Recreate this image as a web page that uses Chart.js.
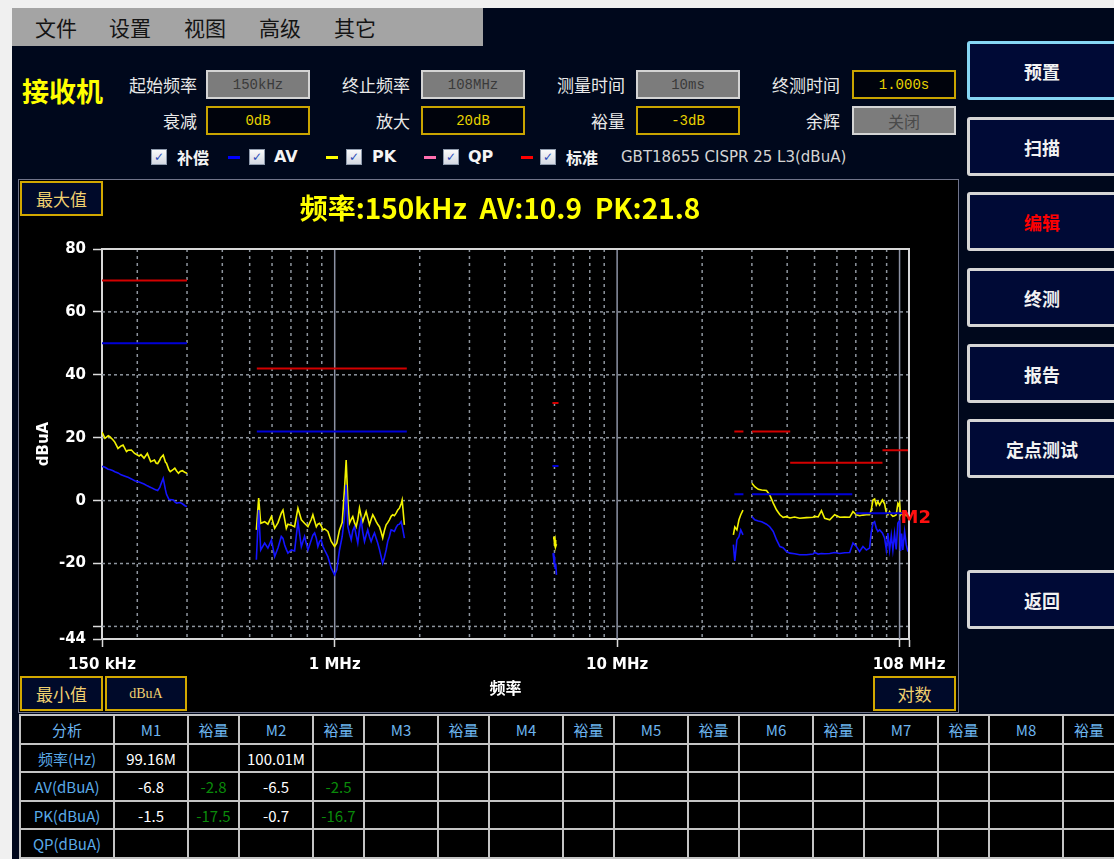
<!DOCTYPE html>
<html lang="zh-CN">
<head>
<meta charset="utf-8">
<title>接收机</title>
<script src="https://cdn.jsdelivr.net/npm/chart.js@4/dist/chart.umd.min.js"></script>
<style>
html,body{margin:0;padding:0;width:1114px;height:859px;overflow:hidden;background:#f0f0f0;}
body{position:relative;font-family:"Noto Sans CJK SC","Noto Sans",sans-serif;}
.a{position:absolute;white-space:nowrap;}
#app{left:12px;top:8px;width:1102px;height:851px;background:#00081c;}
#menu{left:12px;top:8px;width:471px;height:38px;background:#a4a4a4;}
.mi{top:8px;height:38px;line-height:38px;font-size:21px;color:#141414;}
#rx{left:22px;top:74px;height:34px;line-height:34px;font-size:27px;font-weight:bold;color:#ffff00;}
.lbl{height:29px;line-height:29px;font-size:17px;color:#e8e8e8;text-align:right;width:120px;}
.box{width:104px;height:29px;box-sizing:border-box;display:flex;align-items:center;justify-content:center;font-family:"Liberation Mono",monospace;font-size:14px;}
.gray{background:#7c7c7c;border:2px solid #d4d4d4;color:#3a3a3a;}
.yel{background:#00030c;border:2px solid #c9a400;color:#e8d200;}
.cb{width:16px;height:16px;box-sizing:border-box;border:1px solid #8e9aac;background:linear-gradient(#fafafa,#d4d8e2);top:149px;font:bold 12px "DejaVu Sans";color:#2a4cb8;text-align:center;line-height:14px;}
.lg{top:145px;height:24px;line-height:24px;font-size:16px;font-weight:bold;color:#f4f4f4;}
.lgl{font-family:"DejaVu Sans";}
.dash{height:3px;width:12px;top:156px;}
.btn{left:967px;width:150px;height:59px;box-sizing:border-box;border:3px solid #d6d6d6;border-radius:3px;background:#000a36;color:#f2f2f2;font-size:18px;font-weight:bold;display:flex;align-items:center;justify-content:center;}
#panel{left:18px;top:179px;width:941px;height:534px;box-sizing:border-box;border:1px solid #70748a;background:#000;}
.ybox{height:35px;box-sizing:border-box;border:2px solid #d2a800;background:#000a2a;color:#f0d070;font-size:17px;display:flex;align-items:center;justify-content:center;z-index:3;}
#title{left:200px;top:188px;width:600px;height:38px;line-height:38px;text-align:center;color:#ffff00;font-size:28px;font-weight:bold;white-space:pre;z-index:3;}
#wrap{left:19px;top:181px;width:939px;height:530px;z-index:2;}
.cell{position:absolute;box-sizing:border-box;border-right:2px solid #c4c4c4;border-bottom:2px solid #c4c4c4;display:flex;align-items:center;justify-content:center;font-size:15px;color:#fff;background:#000;white-space:nowrap;overflow:hidden;}
</style>
</head>
<body>
<div id="app" class="a"></div>
<div id="menu" class="a"></div>
<div class="a mi" style="left:35px">文件</div>
<div class="a mi" style="left:109px">设置</div>
<div class="a mi" style="left:184px">视图</div>
<div class="a mi" style="left:259px">高级</div>
<div class="a mi" style="left:334px">其它</div>

<div id="rx" class="a">接收机</div>

<div class="a lbl" style="left:77px;top:70px">起始频率</div>
<div class="a box gray" style="left:206px;top:70px">150kHz</div>
<div class="a lbl" style="left:290px;top:70px">终止频率</div>
<div class="a box gray" style="left:421px;top:70px">108MHz</div>
<div class="a lbl" style="left:505px;top:70px">测量时间</div>
<div class="a box gray" style="left:636px;top:70px">10ms</div>
<div class="a lbl" style="left:720px;top:70px">终测时间</div>
<div class="a box yel" style="left:852px;top:70px">1.000s</div>

<div class="a lbl" style="left:77px;top:106px">衰减</div>
<div class="a box yel" style="left:206px;top:106px">0dB</div>
<div class="a lbl" style="left:290px;top:106px">放大</div>
<div class="a box yel" style="left:421px;top:106px">20dB</div>
<div class="a lbl" style="left:505px;top:106px">裕量</div>
<div class="a box yel" style="left:636px;top:106px">-3dB</div>
<div class="a lbl" style="left:720px;top:106px">余辉</div>
<div class="a box gray" style="left:852px;top:106px;font-family:'Noto Sans CJK SC';font-size:16px;color:#4a4a4a">关闭</div>

<div class="a cb" style="left:151px">✓</div>
<div class="a lg" style="left:177px">补偿</div>
<div class="a dash" style="left:228px;background:#0000ff"></div>
<div class="a cb" style="left:249px">✓</div>
<div class="a lg lgl" style="left:274px">AV</div>
<div class="a dash" style="left:326px;background:#ffff00"></div>
<div class="a cb" style="left:346px">✓</div>
<div class="a lg lgl" style="left:372px">PK</div>
<div class="a dash" style="left:424px;background:#ff6fb0"></div>
<div class="a cb" style="left:443px">✓</div>
<div class="a lg lgl" style="left:468px">QP</div>
<div class="a dash" style="left:521px;background:#ff0000"></div>
<div class="a cb" style="left:540px">✓</div>
<div class="a lg" style="left:566px">标准</div>
<div class="a lg" style="left:621px;font-family:'DejaVu Sans';font-weight:normal;font-size:15px;color:#d4d4d4">GBT18655 CISPR 25 L3(dBuA)</div>

<div class="a btn" style="top:41px;border-color:#86d6f4">预置</div>
<div class="a btn" style="top:117px">扫描</div>
<div class="a btn" style="top:192px;color:#ff0000">编辑</div>
<div class="a btn" style="top:268px">终测</div>
<div class="a btn" style="top:344px">报告</div>
<div class="a btn" style="top:419px">定点测试</div>
<div class="a btn" style="top:570px">返回</div>

<div id="panel" class="a"></div>
<div id="wrap" class="a"><canvas id="c"></canvas></div>
<div class="a ybox" style="left:20px;top:181px;width:83px">最大值</div>
<div id="title" class="a">频率:150kHz  AV:10.9  PK:21.8</div>
<div class="a ybox" style="left:20px;top:676px;width:83px">最小值</div>
<div class="a ybox" style="left:105px;top:676px;width:82px;font-family:'Liberation Serif',serif;font-size:14px">dBuA</div>
<div class="a ybox" style="left:873px;top:676px;width:83px">对数</div>

<div id="table" class="a" style="left:19px;top:714px;width:1100px;height:150px;border-left:2px solid #c4c4c4;border-top:2px solid #c4c4c4;box-sizing:border-box;background:#000"></div>

<script>
// ---------- data (frequency in MHz, level in dBuA) ----------
const seg1Freq = [0.1500,0.1537,0.1578,0.1599,0.1642,0.1665,0.1709,0.1753,0.1781,0.1831,
                  0.1854,0.1906,0.1957,0.2031,0.2060,0.2113,0.2171,0.2231,0.2300,0.2334,
                  0.2362,0.2403,0.2420,0.2471,0.2517,0.2538,0.2588,0.2617,0.2684,0.2716,
                  0.2756,0.2798,0.2837,0.2889,0.2957,0.3000];
const seg1PK = [21.8,19.8,20.6,20.3,19.3,18.6,16.6,17.4,17.7,15.6,
                16.0,16.1,15.0,14.2,14.6,13.5,15.0,12.4,12.9,11.9,
                11.8,12.9,13.6,14.5,12.2,11.9,9.8,9.2,9.9,10.3,
                9.4,8.7,9.3,9.5,8.9,8.7];
const seg1AV = [10.9,10.6,10.0,9.9,9.5,9.2,8.8,8.2,8.0,7.6,
                7.4,6.9,6.3,5.9,5.7,5.3,4.7,4.2,3.6,3.4,
                3.2,4.2,5.0,7.1,3.4,2.0,0.4,0.3,0.2,-0.4,
                -0.8,-0.7,-0.6,-1.0,-1.7,-1.9];

const seg2Freq = [0.528,0.538,0.547,0.565,0.580,0.597,0.613,0.630,0.647,0.656,
                  0.665,0.674,0.683,0.702,0.721,0.741,0.762,0.782,0.804,0.826,
                  0.837,0.849,0.861,0.872,0.884,0.896,0.908,0.921,0.946,0.972,
                  0.999,1.017,1.040,1.063,1.083,1.098,1.113,1.128,1.144,1.159,
                  1.175,1.191,1.207,1.224,1.241,1.257,1.275,1.292,1.309,1.328,
                  1.346,1.364,1.383,1.402,1.420,1.440,1.460,1.479,1.500,1.521,
                  1.541,1.562,1.584,1.605,1.627,1.650,1.672,1.695,1.719,1.733,
                  1.765];
const seg2PK = [-9.3,0.8,-7.2,-6.7,-7.5,-5.1,-8.8,-7.0,-4.0,-3.0,
                -6.0,-8.8,-7.5,-7.8,-8.3,-2.4,-6.1,-7.2,-8.3,-6.0,
                -4.5,-6.5,-8.3,-7.5,-7.2,-8.0,-9.3,-9.0,-9.8,-13.0,
                -14.6,-13.5,-9.3,-7.0,3.4,12.9,0.2,-7.2,-6.0,-5.1,
                -7.0,-8.3,-6.0,-2.4,-5.0,-6.7,-5.0,-3.5,-5.5,-7.7,
                -6.0,-4.5,-5.5,-6.7,-7.5,-8.3,-10.0,-11.9,-9.5,-7.7,
                -7.0,-6.1,-5.0,-4.5,-4.8,-4.0,-3.0,-2.4,-1.0,0.2,
                -7.7];
const seg2AV = [-18.8,-3.0,-15.7,-13.5,-15.1,-12.5,-17.8,-15.0,-11.4,-12.0,
                -14.1,-15.5,-16.7,-15.7,-16.0,-6.7,-14.6,-11.4,-15.7,-12.5,
                -11.0,-10.3,-12.0,-14.6,-13.0,-12.5,-14.5,-15.7,-17.8,-21.5,
                -23.6,-22.0,-15.7,-11.4,-5.1,5.0,-8.3,-10.5,-12.5,-9.5,
                -8.3,-11.0,-13.5,-9.0,-6.1,-10.0,-13.0,-11.0,-9.3,-11.5,
                -13.0,-11.5,-10.3,-12.0,-13.5,-15.5,-17.8,-19.9,-18.0,-15.7,
                -13.0,-11.4,-9.3,-9.5,-9.8,-8.5,-7.7,-7.5,-6.7,-8.0,
                -11.9];

const seg3Freq = [5.93,5.97,6.00,6.03,6.06,6.10];
const seg3PK = [-12.0,-11.4,-13.5,-12.5,-14.6,-13.8];
const seg3AV = [-16.7,-19.0,-18.5,-21.5,-20.0,-23.6];

const seg4Freq = [25.8,26.1,26.55,27.0,27.4,27.9];
const seg4PK = [-10.9,-8.4,-9.3,-6.1,-4.5,-3.0];
const seg4AV = [-14.0,-19.2,-12.5,-11.5,-9.3,-10.9];

const seg5Freq = [30.0,30.7,31.6,32.5,33.8,34.7,35.7,36.7,37.7,38.7,
                  39.8,40.9,42.5,44.3,46.8,49.4,50.1,51.5,52.9,54.3,
                  56.6,58.9,61.4,63.9,66.6,68.4,70.3,72.2,74.2,76.3,
                  78.3,79.4,80.5,81.6,82.7,83.8,85.0,86.9,88.5,89.8,
                  90.9,92.2,93.5,94.7,96.0,97.3,98.6,99.16,100.01,100.8,
                  101.7,102.7,104.2,105.6,107.0];
const seg5PK = [5.5,4.4,3.6,3.4,3.2,1.8,-0.8,-3.0,-4.5,-5.3,
                -5.1,-5.5,-5.2,-5.6,-5.4,-5.3,-5.0,-5.2,-3.2,-5.6,
                -6.1,-4.5,-5.3,-5.2,-5.3,-3.5,-4.5,-4.8,-4.6,-4.5,
                -4.5,-3.0,0.2,0.5,-1.4,-0.3,-1.4,0.2,-1.0,-4.0,
                -4.5,-3.5,-4.5,-5.0,-4.8,-4.5,-1.0,-1.5,-0.7,-4.5,
                -4.0,-4.5,-3.5,-4.8,-4.5];
const seg5AV = [-5.1,-6.1,-6.5,-6.7,-7.5,-8.3,-9.8,-12.5,-14.6,-15.0,
                -16.2,-16.7,-16.9,-17.2,-17.2,-17.0,-16.5,-17.0,-16.8,-16.9,
                -16.8,-16.5,-16.8,-16.6,-16.5,-13.5,-14.6,-16.2,-14.6,-15.7,
                -15.1,-10.0,-7.2,-6.7,-8.8,-9.8,-9.3,-10.3,-11.9,-15.7,
                -10.3,-15.7,-11.0,-15.7,-10.5,-15.5,-7.2,-6.8,-6.5,-16.0,
                -10.5,-15.7,-9.8,-14.0,-16.2];

// standard limit lines (red = PK limit, blue = AV limit)
const redLimitStart = [0.15, 0.53, 5.9, 26, 30, 41, 87];
const redLimitEnd   = [0.30, 1.8, 6.2, 28, 41, 87, 108];
const redLimitLevel = [70, 42, 31, 22, 22, 12, 16];
const blueLimitStart = [0.15, 0.53, 5.9, 26, 30, 70];
const blueLimitEnd   = [0.30, 1.8, 6.2, 28, 68, 108];
const blueLimitLevel = [50, 22, 11, 2, 2, -4];

// axis ticks
const yTickValues = [-44, -40, -20, 0, 20, 40, 60, 80];
const yTickLabels = ['-44', '', '-20', '0', '20', '40', '60', '80'];
const yGridValues = [-40, -20, 0, 20, 40, 60];
const xTickValues = [0.15, 1, 10, 100, 108];
const xTickLabels = ['150 kHz', '1 MHz', '10 MHz', '', '108 MHz'];
const xMajorGrid = [1, 10, 100];

// markers
const markerNames = ['M1', 'M2'];
const markerFreq = [99.16, 100.01];
const markerFreqText = ['99.16M', '100.01M'];
const markerAV = [-6.8, -6.5];
const markerAVMargin = [-2.8, -2.5];
const markerPK = [-1.5, -0.7];
const markerPKMargin = [-17.5, -16.7];
const activeMarker = 1;

// table texts
const tableHeaders = ['分析','M1','裕量','M2','裕量','M3','裕量','M4','裕量','M5','裕量','M6','裕量','M7','裕量','M8','裕量'];
const rowLabels = ['频率(Hz)','AV(dBuA)','PK(dBuA)','QP(dBuA)'];

// ---------- helpers ----------
function segPoints(freqs, vals) { return freqs.map((f, i) => ({ x: f, y: vals[i] })); }
function joinSegments(list) {
  const out = [];
  list.forEach((s, k) => {
    if (k > 0) out.push({ x: s[0].x, y: null });
    out.push(...s);
  });
  return out;
}
function limitPoints(starts, ends, levels) {
  return joinSegments(starts.map((s, i) => [{ x: s, y: levels[i] }, { x: ends[i], y: levels[i] }]));
}

const pkData = joinSegments([
  segPoints(seg1Freq, seg1PK), segPoints(seg2Freq, seg2PK), segPoints(seg3Freq, seg3PK),
  segPoints(seg4Freq, seg4PK), segPoints(seg5Freq, seg5PK)]);
const avData = joinSegments([
  segPoints(seg1Freq, seg1AV), segPoints(seg2Freq, seg2AV), segPoints(seg3Freq, seg3AV),
  segPoints(seg4Freq, seg4AV), segPoints(seg5Freq, seg5AV)]);

// ---------- grid / frame plugin ----------
const scopeGrid = {
  id: 'scopeGrid',
  beforeDatasetsDraw(chart) {
    const { ctx, chartArea: a, scales: { x, y } } = chart;
    ctx.save();
    ctx.beginPath(); ctx.rect(a.left, a.top, a.right - a.left, a.bottom - a.top); ctx.clip();
    ctx.lineWidth = 1.5;
    ctx.strokeStyle = '#8e959e';
    ctx.setLineDash([3, 3]);
    yGridValues.forEach(v => {
      const py = y.getPixelForValue(v);
      ctx.beginPath(); ctx.moveTo(a.left, py); ctx.lineTo(a.right, py); ctx.stroke();
    });
    const minor = [];
    [0.1, 1, 10].forEach(d => { for (let m = 2; m <= 9; m++) minor.push(d * m); });
    ctx.setLineDash([3, 4]);
    minor.filter(f => f > x.min && f < x.max).forEach(f => {
      const px = x.getPixelForValue(f);
      ctx.beginPath(); ctx.moveTo(px, a.top); ctx.lineTo(px, a.bottom); ctx.stroke();
    });
    ctx.setLineDash([]);
    ctx.strokeStyle = '#8c92a4';
    xMajorGrid.forEach(f => {
      const px = x.getPixelForValue(f);
      ctx.beginPath(); ctx.moveTo(px, a.top); ctx.lineTo(px, a.bottom); ctx.stroke();
    });
    ctx.restore();
  },
  afterDatasetsDraw(chart) {
    const { ctx, chartArea: a, scales: { x, y } } = chart;
    ctx.save();
    ctx.strokeStyle = '#d8d8d8';
    ctx.lineWidth = 2;
    ctx.beginPath(); ctx.moveTo(a.left, a.top); ctx.lineTo(a.right, a.top); ctx.lineTo(a.right, a.bottom); ctx.stroke();
    // active marker label
    const i = activeMarker;
    ctx.fillStyle = '#ff1010';
    ctx.font = 'bold 18px "DejaVu Sans"';
    ctx.textAlign = 'left';
    ctx.textBaseline = 'alphabetic';
    ctx.fillText(markerNames[i], x.getPixelForValue(markerFreq[i]) + 1, y.getPixelForValue(markerAV[i]) + 2);
    ctx.restore();
  }
};

const tickFont = { family: 'DejaVu Sans', weight: 'bold', size: 15 };

new Chart(document.getElementById('c'), {
  type: 'line',
  data: {
    datasets: [
      { label: '标准', data: limitPoints(redLimitStart, redLimitEnd, redLimitLevel), borderColor: '#d40000', borderWidth: 2, pointRadius: 0, spanGaps: false, tension: 0 },
      { label: 'AV 限值', data: limitPoints(blueLimitStart, blueLimitEnd, blueLimitLevel), borderColor: '#0000d8', borderWidth: 2, pointRadius: 0, spanGaps: false, tension: 0 },
      { label: 'AV', data: avData, borderColor: '#1414ff', borderWidth: 1.6, pointRadius: 0, spanGaps: false, tension: 0 },
      { label: 'PK', data: pkData, borderColor: '#f2f200', borderWidth: 1.6, pointRadius: 0, spanGaps: false, tension: 0 }
    ]
  },
  options: {
    responsive: true,
    maintainAspectRatio: false,
    animation: false,
    events: [],
    layout: { padding: { left: 0, top: 68, right: 49, bottom: 0 } },
    plugins: { legend: { display: false }, tooltip: { enabled: false } },
    scales: {
      x: {
        type: 'logarithmic',
        min: 0.15, max: 108,
        afterBuildTicks: s => { s.ticks = xTickValues.map(v => ({ value: v })); },
        afterFit: s => { s.height = 72; },
        ticks: { autoSkip: false, maxRotation: 0, minRotation: 0, padding: 9, color: '#ffffff', font: tickFont,
                 callback: (v, i) => xTickLabels[i] },
        grid: { drawOnChartArea: false, tickColor: '#dcdcdc', tickLength: 8, tickWidth: 1.5 },
        border: { color: '#d8d8d8', width: 2 },
        title: { display: true, text: '频率', color: '#ffffff', font: { family: 'Noto Sans CJK SC', weight: 'bold', size: 16 }, padding: { top: 0, bottom: 13 } }
      },
      y: {
        type: 'linear',
        min: -44, max: 80,
        afterBuildTicks: s => { s.ticks = yTickValues.map(v => ({ value: v })); },
        afterFit: s => { s.width = 83; },
        ticks: { autoSkip: false, padding: 7, color: '#ffffff', font: tickFont, callback: (v, i) => yTickLabels[i] },
        grid: { drawOnChartArea: false, tickColor: '#dcdcdc', tickLength: 9, tickWidth: 1.5 },
        border: { color: '#d8d8d8', width: 2 },
        title: { display: true, text: 'dBuA', color: '#ffffff', font: { family: 'DejaVu Sans', weight: 'bold', size: 15 }, padding: { top: 16, bottom: 0 } }
      }
    }
  },
  plugins: [scopeGrid]
});

// ---------- marker table ----------
(function buildTable() {
  const colW = [94, 74, 51, 74, 51, 74, 51, 74, 51, 74, 51, 74, 51, 74, 51, 74, 52];
  const rowH = [29, 28, 29, 28, 29];
  const t = document.getElementById('table');
  const rows = [tableHeaders.map(h => ({ t: h, c: '#6cb4ee' }))];
  rowLabels.forEach((lab, r) => {
    const row = [{ t: lab, c: '#5aaae8' }];
    for (let m = 0; m < 8; m++) {
      let v = '', mg = '';
      if (m < markerFreq.length) {
        if (r === 0) v = markerFreqText[m];
        if (r === 1) { v = markerAV[m].toFixed(1); mg = markerAVMargin[m].toFixed(1); }
        if (r === 2) { v = markerPK[m].toFixed(1); mg = markerPKMargin[m].toFixed(1); }
      }
      row.push({ t: v, c: '#ffffff' });
      row.push({ t: mg, c: '#0a8a0a' });
    }
    rows.push(row);
  });
  let top = 0;
  rows.forEach((row, r) => {
    let left = 0;
    row.forEach((cell, c) => {
      const d = document.createElement('div');
      d.className = 'cell';
      d.style.left = left + 'px';
      d.style.top = top + 'px';
      d.style.width = colW[c] + 'px';
      d.style.height = rowH[r] + 'px';
      d.style.color = cell.c;
      d.textContent = cell.t;
      t.appendChild(d);
      left += colW[c];
    });
    top += rowH[r];
  });
})();
</script>
</body>
</html>
